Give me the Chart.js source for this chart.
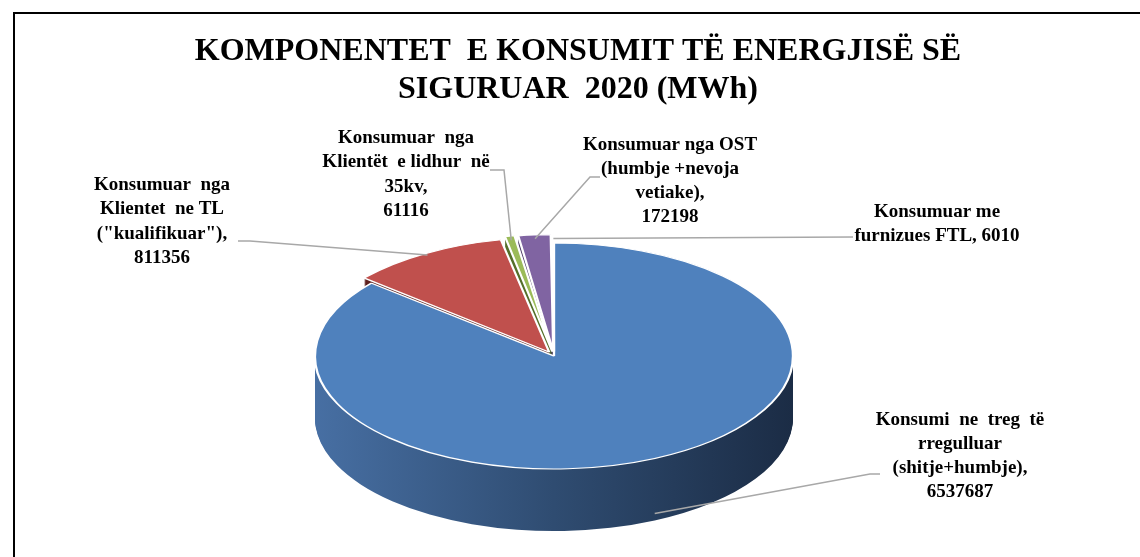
<!DOCTYPE html>
<html>
<head>
<meta charset="utf-8">
<script src="https://cdn.jsdelivr.net/npm/chart.js@4.4.1/dist/chart.umd.min.js"></script>
<style>
  html, body { margin: 0; padding: 0; background: #fff; overflow: hidden; }
  #wrap { position: relative; width: 1140px; height: 557px; }
  #frame { position: absolute; left: 13px; top: 12px; width: 1200px; height: 600px; border: 2px solid #000; box-sizing: border-box; }
  canvas { position: absolute; left: 0; top: 0; }
</style>
</head>
<body>
<div id="wrap">
  <div id="frame"></div>
  <canvas id="pie" width="1140" height="557"></canvas>
</div>
<script>
// Dati (MWh, 2020)
const TITLE_LINES = ['KOMPONENTET  E KONSUMIT TË ENERGJISË SË', 'SIGURUAR  2020 (MWh)'];
const CATEGORIES = [
  ['Konsumi  ne  treg  të', 'rregulluar', '(shitje+humbje),'],
  ['Konsumuar  nga', 'Klientet  ne TL', '("kualifikuar"),'],
  ['Konsumuar  nga', 'Klientët  e lidhur  në', '35kv,'],
  ['Konsumuar nga OST', '(humbje +nevoja', 'vetiake),'],
  ['Konsumuar me', 'furnizues FTL,'],
];
const VALUES = [6537687, 811356, 61116, 172198, 6010];

// Stile
const COLORS = ['#4f81bd', '#c0504d', '#9bbb59', '#8064a2', '#4bacc6'];
const SIDES = [null, '#5e211f', '#55702b', '#46355f', '#2a7387'];
const EXPLODE = [0, 32, 32, 32, 32];
const PIE = { cx: 554, cy: 356, rx: 239, ry: 113, depth: 62 };

// Posizione etichette e linee guida (px sulla pagina)
const CALLOUTS = [
  { x: 960, y: 420, lh: 24, inline: false, lead: [[880, 474], [870, 474]], r: 1, drop: 55 },
  { x: 162, y: 185, lh: 24.5, inline: false, lead: [[238, 241], [250, 241]], r: 1, drop: 0 },
  { x: 406, y: 138, lh: 24.5, inline: false, lead: [[490, 170], [504, 170]], r: 1, drop: 0 },
  { x: 670, y: 145, lh: 24, inline: false, lead: [[600, 177], [590, 177]], r: 1, drop: 0 },
  { x: 937, y: 212, lh: 24, inline: true, lead: [[853, 237]], r: 1, drop: 0 },
];

// Finta 3D: schiaccia la torta e disegna lo spessore sotto.
const pie3d = {
  id: 'pie3d',
  beforeDatasetsDraw(chart) {
    const ctx = chart.ctx;
    const arcs = chart.getDatasetMeta(0).data;
    const a0 = arcs[0];
    const R = a0.outerRadius;
    const view = { x: a0.x, y: a0.y, sx: PIE.rx / R, sy: PIE.ry / R };
    chart.$view = view;

    const toPie = (dy) => {
      ctx.translate(PIE.cx, PIE.cy + dy);
      ctx.scale(view.sx, view.sy);
      ctx.translate(-view.x, -view.y);
    };

    const grad = ctx.createLinearGradient(view.x - R, 0, view.x + R, 0);
    grad.addColorStop(0, '#476fa3');
    grad.addColorStop(0.5, '#2f4c71');
    grad.addColorStop(1, '#1b2c45');

    const sides = arcs.map((arc, i) => {
      const s = Object.create(arc);
      s.options = Object.assign({}, arc.options, { backgroundColor: SIDES[i] || grad, borderWidth: 0 });
      return s;
    });
    for (let d = PIE.depth; d > 0; d--) {
      ctx.save();
      toPie(d);
      sides.forEach((s) => s.draw(ctx));
      ctx.restore();
    }
    ctx.save();
    toPie(0);
  },
  afterDatasetsDraw(chart) {
    chart.ctx.restore();
  },
};

const callouts = {
  id: 'callouts',
  afterDraw(chart) {
    const ctx = chart.ctx;
    const v = chart.$view;
    const arcs = chart.getDatasetMeta(0).data;
    ctx.save();
    CALLOUTS.forEach((L, i) => {
      const arc = arcs[i];
      const mid = (arc.startAngle + arc.endAngle) / 2;
      const rr = arc.outerRadius * L.r + EXPLODE[i] / 4;
      const px = arc.x + Math.cos(mid) * rr;
      const py = arc.y + Math.sin(mid) * rr;
      const X = PIE.cx + (px - v.x) * v.sx;
      const Y = PIE.cy + (py - v.y) * v.sy + L.drop;

      ctx.strokeStyle = '#a8a8a8';
      ctx.lineWidth = 1.5;
      ctx.beginPath();
      ctx.moveTo(L.lead[0][0], L.lead[0][1]);
      L.lead.slice(1).forEach((p) => ctx.lineTo(p[0], p[1]));
      ctx.lineTo(X, Y);
      ctx.stroke();

      const lines = CATEGORIES[i].slice();
      if (L.inline) lines[lines.length - 1] += ' ' + VALUES[i];
      else lines.push(String(VALUES[i]));
      ctx.fillStyle = '#000';
      ctx.font = 'bold 19px "Liberation Serif", "Times New Roman", serif';
      ctx.textAlign = 'center';
      ctx.textBaseline = 'middle';
      lines.forEach((t, k) => ctx.fillText(t, L.x, L.y + k * L.lh));
    });
    ctx.restore();
  },
};

new Chart(document.getElementById('pie'), {
  type: 'pie',
  data: {
    labels: CATEGORIES.map((c) => c.join(' ')),
    datasets: [{
      data: VALUES,
      backgroundColor: COLORS,
      borderColor: '#ffffff',
      borderWidth: 2,
      offset: EXPLODE,
    }],
  },
  options: {
    responsive: false,
    animation: false,
    layout: { padding: { left: 16, top: 0, right: 0, bottom: 0 } },
    plugins: {
      legend: { display: false },
      tooltip: { enabled: false },
      title: {
        display: true,
        text: TITLE_LINES,
        color: '#000',
        font: { family: '"Liberation Serif", "Times New Roman", serif', size: 32, weight: 'bold', lineHeight: 38 / 32 },
        padding: { top: 33, bottom: 10 },
      },
    },
  },
  plugins: [pie3d, callouts],
});
</script>
</body>
</html>
